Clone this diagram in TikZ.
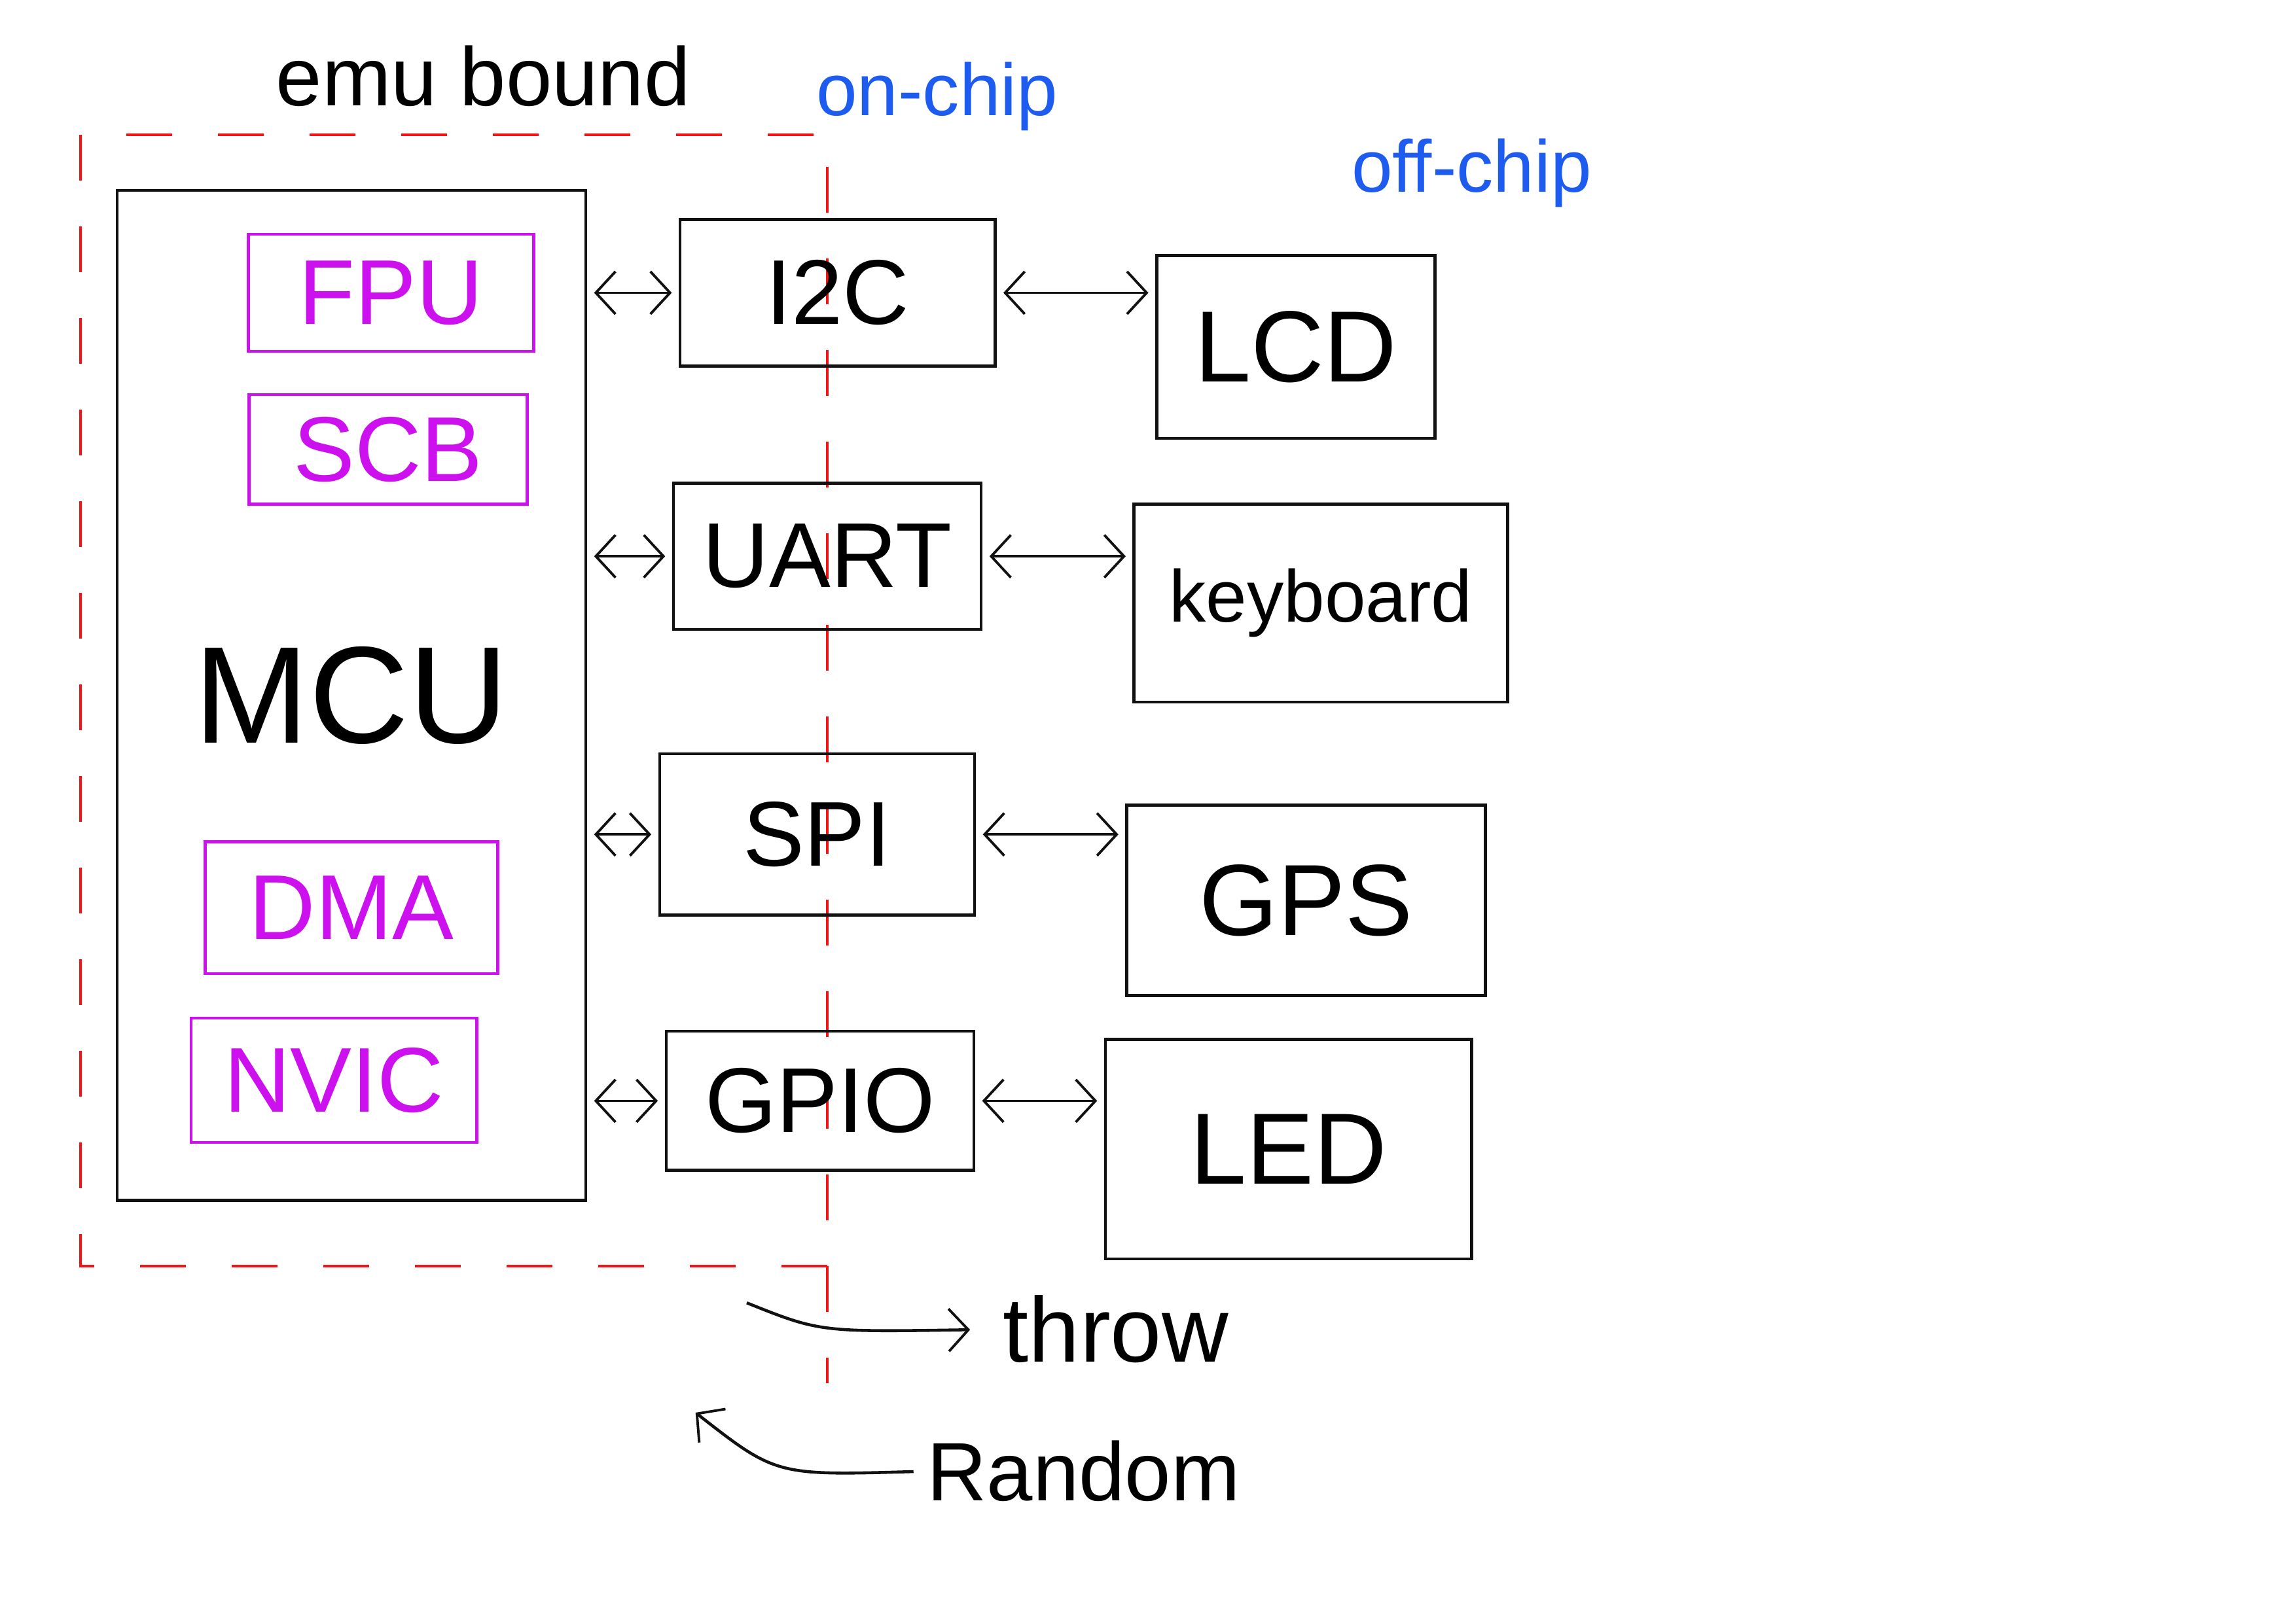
\documentclass[tikz,border=0pt]{standalone}
\usepackage{fontspec}
\setmainfont{Liberation Sans}
\usetikzlibrary{arrows.meta,positioning}
\definecolor{ink}{HTML}{111111}
\definecolor{mag}{HTML}{CC11EE}
\definecolor{pen}{HTML}{1E5CF0}
\definecolor{bound}{HTML}{F01414}
\newcommand\pxu{0.02237cm}

\begin{document}
\begin{tikzpicture}[x=\pxu,y=-\pxu,
  blk/.style 2 args={draw=ink,line width=1.3pt,minimum width=#1*\pxu,minimum height=#2*\pxu,inner sep=0pt,font=\fontsize{40}{44}\selectfont},
  sub/.style 2 args={blk={#1}{#2},draw=mag,text=mag},
  barb/.tip={Straight Barb[length=3mm,width=6.5mm,line width=1.1pt]},
  link/.style={ink,line width=1.1pt,barb-barb,shorten <=3pt,shorten >=3pt},
  one/.style={ink,line width=1.3pt,-barb},
  note/.style={font=\fontsize{40}{44}\selectfont,inner sep=0pt}]
\useasboundingbox (0,0) rectangle (1568,1109);
\coordinate (emuTL) at (55,92);\coordinate (emuBR) at (565,865);\coordinate (divEnd) at (565,945);
\draw[bound,line width=1pt,dash pattern=on 7mm off 7mm] (emuTL) rectangle (emuBR);
\draw[bound,line width=1pt,dash pattern=on 7mm off 7mm] (emuBR) -- (divEnd);
\node[note,font=\fontsize{36}{40}\selectfont] (emu) at (330,52) {emu bound};
\node[note,text=pen,font=\fontsize{32}{36}\selectfont] (onchip) at (640,66) {on-chip};
\node[note,text=pen,font=\fontsize{32}{36}\selectfont] (offchip) at (1005,118) {off-chip};

\node[blk={320}{690},font=\fontsize{60}{64}\selectfont] (mcu) at (240,475) {MCU};
\node[sub={195}{80}] (fpu) at (267,200) {FPU};
\node[sub={190}{75}] (scb) at (265,307) {SCB};
\node[sub={200}{90}] (dma) at (240,620) {DMA};
\node[sub={195}{85}] (nvic) at (228,738) {NVIC};

\node[blk={215}{100}] (i2c) at (572,200) {I2C};
\node[blk={210}{100}] (uart) at (565,380) {UART};
\node[blk={215}{110}] (spi) at (558,570) {SPI};
\node[blk={210}{95}] (gpio) at (560,752) {GPIO};

\node[blk={190}{125},font=\fontsize{44}{48}\selectfont] (lcd) at (885,237) {LCD};
\node[blk={255}{135},font=\fontsize{32}{36}\selectfont] (kbd) at (902,412) {keyboard};
\node[blk={245}{130},font=\fontsize{44}{48}\selectfont] (gps) at (892,615) {GPS};
\node[blk={250}{150},font=\fontsize{44}{48}\selectfont] (led) at (880,785) {LED};

\draw[link] (mcu.east |- i2c.west) -- (i2c.west);\draw[link] (i2c.east) -- (i2c.east -| lcd.west);
\draw[link] (mcu.east |- uart.west) -- (uart.west);\draw[link] (uart.east) -- (uart.east -| kbd.west);
\draw[link] (mcu.east |- spi.west) -- (spi.west);\draw[link] (spi.east) -- (spi.east -| gps.west);
\draw[link] (mcu.east |- gpio.west) -- (gpio.west);\draw[link] (gpio.east) -- (gpio.east -| led.west);

\node[note] (throw) at (762,908) {throw};
\node[note,font=\fontsize{36}{40}\selectfont] (random) at (740,1005) {Random};
\coordinate (thrStart) at (510,890);\coordinate (rndEnd) at (475,965);
\draw[one,shorten >=5mm] (thrStart) .. controls (560,910) .. (throw.west);
\draw[one,shorten <=2mm] (random.west) .. controls (530,1008) .. (rndEnd);
\end{tikzpicture}
\end{document}
